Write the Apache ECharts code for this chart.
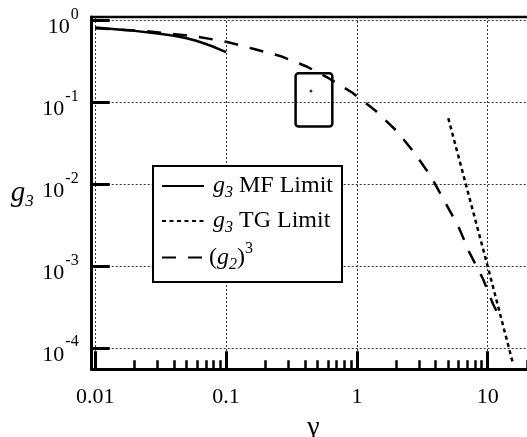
<!DOCTYPE html>
<html><head><meta charset="utf-8">
<script src="https://cdn.jsdelivr.net/npm/echarts@6/dist/echarts.min.js"></script>
<style>html,body{margin:0;padding:0;background:#fff}#c{width:527px;height:437px}</style>
</head><body><div id="c"></div>
<script>
// ---- data ----
const gammaMF = [0.01, 0.015, 0.02, 0.03, 0.04, 0.05, 0.06, 0.07, 0.08, 0.09, 0.1];
const g3MF    = [0.82, 0.775, 0.745, 0.69, 0.65, 0.605, 0.56, 0.515, 0.477, 0.441, 0.41];
const gammaTG = [5, 10, 15.5];
const g3TG    = [0.064, 0.001, 0.000068];
const gammaG2 = [0.01, 0.022, 0.037, 0.061, 0.1, 0.161, 0.262, 0.417, 0.608, 0.925, 1.39, 2.01, 2.75, 3.66, 4.68, 5.97, 7.24, 9.18, 10.96, 12];
const g2Cubed = [0.80, 0.75, 0.69, 0.63, 0.55, 0.451, 0.366, 0.272, 0.197, 0.131, 0.079, 0.045, 0.0243, 0.0127, 0.0062, 0.00307, 0.00148, 0.00071, 0.00035, 0.00026];
const boxGamma = [0.34, 0.649];
const boxG3 = [0.0506, 0.227];
const pointGamma = [0.446];
const pointG3 = [0.138];
const seriesNames = ['g3 MF Limit', 'g3 TG Limit', '(g2)^3'];
const xMajorTicks = [0.01, 0.1, 1, 10];
const xTickLabels = ['0.01', '0.1', '1', '10'];
const xMinorTicks = [0.02, 0.03, 0.04, 0.05, 0.06, 0.07, 0.08, 0.09,
                     0.2, 0.3, 0.4, 0.5, 0.6, 0.7, 0.8, 0.9,
                     2, 3, 4, 5, 6, 7, 8, 9, 20];
const yMajorTicks = [0.0001, 0.001, 0.01, 0.1, 1];
const yTickExponents = ['-4', '-3', '-2', '-1', '0'];

// ---- chart ----
const FONT = 'Liberation Serif';
const zip = (a, b) => a.map((v, i) => [v, b[i]]);
const nearestIdx = (arr, v) => {
  let best = 0, bd = Infinity;
  arr.forEach((t, i) => { const d = Math.abs(Math.log(t) - Math.log(v)); if (d < bd) { bd = d; best = i; } });
  return best;
};
const LF = 24;
const legendRich = {
  t:   {fontFamily: FONT, fontSize: LF, lineHeight: 30, color: '#000'},
  gi:  {fontFamily: FONT, fontSize: LF, fontStyle: 'italic', lineHeight: 30, color: '#000', padding: [0, 0, 0, 4]},
  sub: {fontFamily: FONT, fontSize: 16, fontStyle: 'italic', lineHeight: 30, color: '#000', padding: [14, 0, 0, 0]},
  t3:  {fontFamily: FONT, fontSize: LF, lineHeight: 43, color: '#000'},
  gi3: {fontFamily: FONT, fontSize: LF, fontStyle: 'italic', lineHeight: 43, color: '#000'},
  sub3:{fontFamily: FONT, fontSize: 16, fontStyle: 'italic', lineHeight: 43, color: '#000', padding: [15, 0, 0, 0]},
  sup3:{fontFamily: FONT, fontSize: 16, lineHeight: 43, color: '#000', padding: [0, 0, 17, 0]}
};
const legendText = {};
legendText[seriesNames[0]] = '{gi|g}{sub|3}{t| MF Limit}';
legendText[seriesNames[1]] = '{gi|g}{sub|3}{t| TG Limit}';
legendText[seriesNames[2]] = '{t3|(}{gi3|g}{sub3|2}{t3|)}{sup3|3}';

const chart = echarts.init(document.getElementById('c'), null, {renderer: 'canvas'});
chart.setOption({
  animation: false,
  backgroundColor: '#fff',
  grid: {left: 91.7, top: 17, width: 443.3, height: 352.3, show: true, borderColor: '#000', borderWidth: 2.5,
         backgroundColor: 'transparent', containLabel: false, outerBoundsMode: 'none'},
  legend: {
    data: seriesNames, orient: 'vertical', left: 153, top: 166,
    backgroundColor: '#fff', borderColor: '#000', borderWidth: 2, borderRadius: 0,
    padding: [5, 9, 8, 8], itemGap: 5, itemWidth: 42, itemHeight: 14,
    selectedMode: false,
    itemStyle: {opacity: 0},
    formatter: n => legendText[n],
    textStyle: {fontFamily: FONT, fontSize: LF, color: '#000', rich: legendRich}
  },
  xAxis: [{
    type: 'log', min: 0.00939, max: 23, position: 'bottom',
    name: 'γ', nameLocation: 'middle', nameGap: 32,
    nameTextStyle: {fontFamily: FONT, fontSize: 28, color: '#000'},
    axisLine: {show: true, lineStyle: {color: '#000', width: 3}},
    axisTick: {show: true, inside: true, length: 18, lineStyle: {color: '#000', width: 3}, customValues: xMajorTicks},
    axisLabel: {show: true, margin: 17, fontFamily: FONT, fontSize: 22, color: '#000', customValues: xMajorTicks,
      formatter: v => xTickLabels[nearestIdx(xMajorTicks, v)]},
    splitLine: {show: true, lineStyle: {color: '#333', width: 1, type: [2, 2]}},
    minorTick: {show: false}
  }, {
    type: 'log', min: 0.00939, max: 23, position: 'bottom', gridIndex: 0,
    axisLine: {show: false},
    axisTick: {show: true, inside: true, length: 9, lineStyle: {color: '#000', width: 2.5}, customValues: xMinorTicks},
    axisLabel: {show: false},
    splitLine: {show: false}
  }],
  yAxis: [{
    type: 'log', min: 0.0000554, max: 1.1,
    name: '{g|g}{s|3}', nameLocation: 'middle', nameRotate: 0, nameGap: 58,
    nameTextStyle: {fontFamily: FONT, color: '#000', rich: {
      g: {fontFamily: FONT, fontSize: 29, fontStyle: 'italic', color: '#000'},
      s: {fontFamily: FONT, fontSize: 17, fontStyle: 'italic', color: '#000', padding: [16, 0, 0, 0]}
    }},
    axisLine: {show: true, lineStyle: {color: '#000', width: 3}},
    axisTick: {show: true, inside: true, length: 18, lineStyle: {color: '#000', width: 3}, customValues: yMajorTicks},
    axisLabel: {show: true, margin: 13, customValues: yMajorTicks,
      formatter: v => '{b|10}{e|' + yTickExponents[nearestIdx(yMajorTicks, v)] + '}',
      rich: {
        b: {fontFamily: FONT, fontSize: 22, color: '#000', padding: [13, 0, 0, 0]},
        e: {fontFamily: FONT, fontSize: 16, color: '#000', padding: [0, 0, 12, 1]}
      }},
    splitLine: {show: true, lineStyle: {color: '#333', width: 1, type: [2, 2]}},
    minorTick: {show: false}
  }],
  series: [
    {name: seriesNames[0], type: 'line', xAxisIndex: 0, data: zip(gammaMF, g3MF), symbol: 'none',
     lineStyle: {color: '#000', width: 2.5, type: 'solid'}, itemStyle: {color: '#000'}},
    {name: seriesNames[1], type: 'line', xAxisIndex: 0, data: zip(gammaTG, g3TG), symbol: 'none',
     lineStyle: {color: '#000', width: 2.5, type: [4, 3.5]}, itemStyle: {color: '#000'}},
    {name: seriesNames[2], type: 'line', xAxisIndex: 0, data: zip(gammaG2, g2Cubed), symbol: 'none',
     lineStyle: {color: '#000', width: 2.5, type: [14, 12]}, itemStyle: {color: '#000'}},
    {type: 'custom', xAxisIndex: 0, data: [[boxGamma[0], boxGamma[1], boxG3[0], boxG3[1]]],
     encode: {x: [0, 1], y: [2, 3]},
     renderItem: (params, api) => {
       const p0 = api.coord([api.value(0), api.value(3)]);
       const p1 = api.coord([api.value(1), api.value(2)]);
       return {type: 'rect', shape: {x: p0[0], y: p0[1], width: p1[0] - p0[0], height: p1[1] - p0[1], r: 3},
               style: {fill: 'none', stroke: '#000', lineWidth: 2.5}};
     }},
    {type: 'scatter', xAxisIndex: 0, data: zip(pointGamma, pointG3), symbol: 'circle', symbolSize: 3,
     itemStyle: {color: '#000'}}
  ]
});
</script></body></html>
